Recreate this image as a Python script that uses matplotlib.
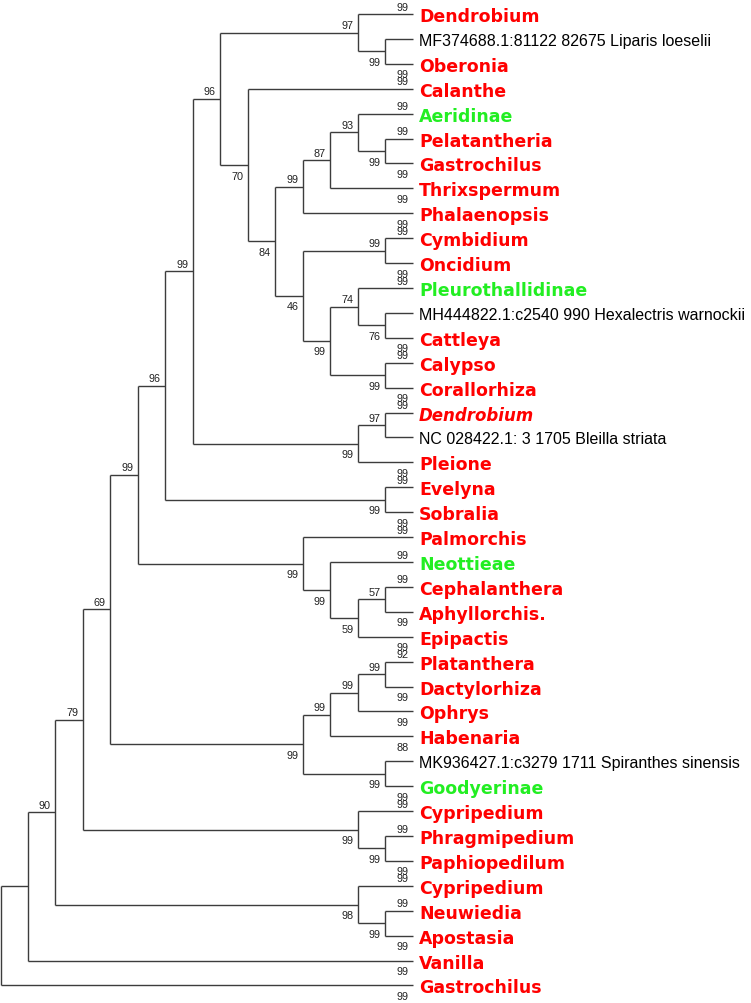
import matplotlib
matplotlib.use("Agg")
import matplotlib.pyplot as plt

# ---------------- data ----------------
leaf_names = [
    "Dendrobium", "MF374688.1:81122 82675 Liparis loeselii", "Oberonia", "Calanthe",
    "Aeridinae", "Pelatantheria", "Gastrochilus", "Thrixspermum", "Phalaenopsis",
    "Cymbidium", "Oncidium", "Pleurothallidinae",
    "MH444822.1:c2540 990 Hexalectris warnockii", "Cattleya", "Calypso", "Corallorhiza",
    "Dendrobium", "NC 028422.1: 3 1705 Bleilla striata", "Pleione", "Evelyna", "Sobralia",
    "Palmorchis", "Neottieae", "Cephalanthera", "Aphyllorchis.", "Epipactis",
    "Platanthera", "Dactylorhiza", "Ophrys", "Habenaria",
    "MK936427.1:c3279 1711 Spiranthes sinensis", "Goodyerinae", "Cypripedium",
    "Phragmipedium", "Paphiopedilum", "Cypripedium", "Neuwiedia", "Apostasia",
    "Vanilla", "Gastrochilus",
]
# g = genus (red), a = accession (black), t = tribe/subtribe (green), i = genus italic
leaf_kind = [
    "g", "a", "g", "g", "t", "g", "g", "g", "g", "g", "g", "t", "a", "g", "g", "g",
    "i", "a", "g", "g", "g", "g", "t", "g", "g", "g", "g", "g", "g", "g", "a", "t",
    "g", "g", "g", "g", "g", "g", "g", "g",
]
leaf_support = [
    "99", "", "99", "99", "99", "99", "99", "99", "99", "99", "99", "99", "", "99",
    "99", "99", "99", "", "99", "99", "99", "99", "99", "99", "99", "99", "92", "99",
    "99", "88", "", "99", "99", "99", "99", "99", "99", "99", "99", "99",
]
# topology (leaf indices) with bootstrap values on internal nodes
newick = ("((((((((((0,(1,2)99)97,(3,((((4,(5,6)99)93,7)87,8)99,((9,10)99,"
          "((11,(12,13)76)74,(14,15)99)99)46)84)70)96,((16,17)97,18)99)99,"
          "(19,20)99)96,(21,(22,((23,24)57,25)59)99)99)99,((((26,27)99,28)99,29)99,"
          "(30,31)99)99)69,(32,(33,34)99)99)79,(35,(36,37)99)98)90,38),39);")

# ---------------- parse ----------------
def parse(s):
    pos = 0

    def token():
        nonlocal pos
        start = pos
        while pos < len(s) and s[pos] not in "(),;":
            pos += 1
        return s[start:pos]

    def node():
        nonlocal pos
        if s[pos] == "(":
            pos += 1
            ch = [node()]
            while s[pos] == ",":
                pos += 1
                ch.append(node())
            pos += 1  # ')'
            return {"children": ch, "support": token()}
        return {"leaf": int(token())}

    return node()

tree = parse(newick)

def height(n):
    if "leaf" in n:
        n["h"] = 0
    else:
        n["h"] = 1 + max(height(c) for c in n["children"])
    return n["h"]

H = height(tree)

def layout(n):
    n["x"] = H - n["h"]
    if "leaf" in n:
        n["y"] = n["leaf"]
    else:
        for c in n["children"]:
            layout(c)
        n["y"] = (n["children"][0]["y"] + n["children"][-1]["y"]) / 2

layout(tree)

# ---------------- draw ----------------
W, Hpx = 751, 1004
fig = plt.figure(figsize=(W / 100, Hpx / 100), dpi=100)
ax = fig.add_axes([0, 0, 1, 1])
ax.axis("off")
xstep, ystep = 27.5, 24.91
x0px, y0px = 0.5, 15.0
ax.set_xlim(-x0px / xstep, (W - x0px) / xstep)
ax.set_ylim((Hpx - y0px) / ystep, -y0px / ystep)

LC = "#3c3c3c"
LW = 1.0
PT = 0.72  # points per pixel
colors = {"g": "#ff0000", "a": "black", "t": "#22ee22", "i": "#ff0000"}

def sup_label(x, y, text, above):
    if not text:
        return
    dy = 7.5 if above else -10.5
    ax.annotate(text, (x, y), xytext=(-4.5 * PT, dy * PT), textcoords="offset points",
                ha="right", va="center", fontsize=7.8, family="Liberation Sans",
                color="#222222")

def draw(n):
    if "leaf" in n:
        return
    ch = n["children"]
    ax.plot([n["x"], n["x"]], [ch[0]["y"], ch[-1]["y"]], color=LC, lw=LW,
            solid_capstyle="butt")
    for k, c in enumerate(ch):
        ax.plot([n["x"], c["x"]], [c["y"], c["y"]], color=LC, lw=LW,
                solid_capstyle="butt")
        above = (k == 0)
        if "leaf" in c:
            sup_label(c["x"], c["y"], leaf_support[c["leaf"]], above)
        else:
            sup_label(c["x"], c["y"], c["support"], above)
        draw(c)

draw(tree)

for i, name in enumerate(leaf_names):
    kind = leaf_kind[i]
    if kind == "a":
        kw = dict(fontsize=11.5, family="Liberation Sans", fontweight="normal")
    elif kind == "i":
        kw = dict(fontsize=12.0, family="DejaVu Sans", fontweight="bold", style="italic")
    else:
        kw = dict(fontsize=12.5, family="DejaVu Sans", fontweight="bold")
    ax.annotate(name, (H, i), xytext=(6 * PT, 0), textcoords="offset points",
                ha="left", va="center_baseline", color=colors[kind], **kw)

fig.savefig("out.png", dpi=100)
